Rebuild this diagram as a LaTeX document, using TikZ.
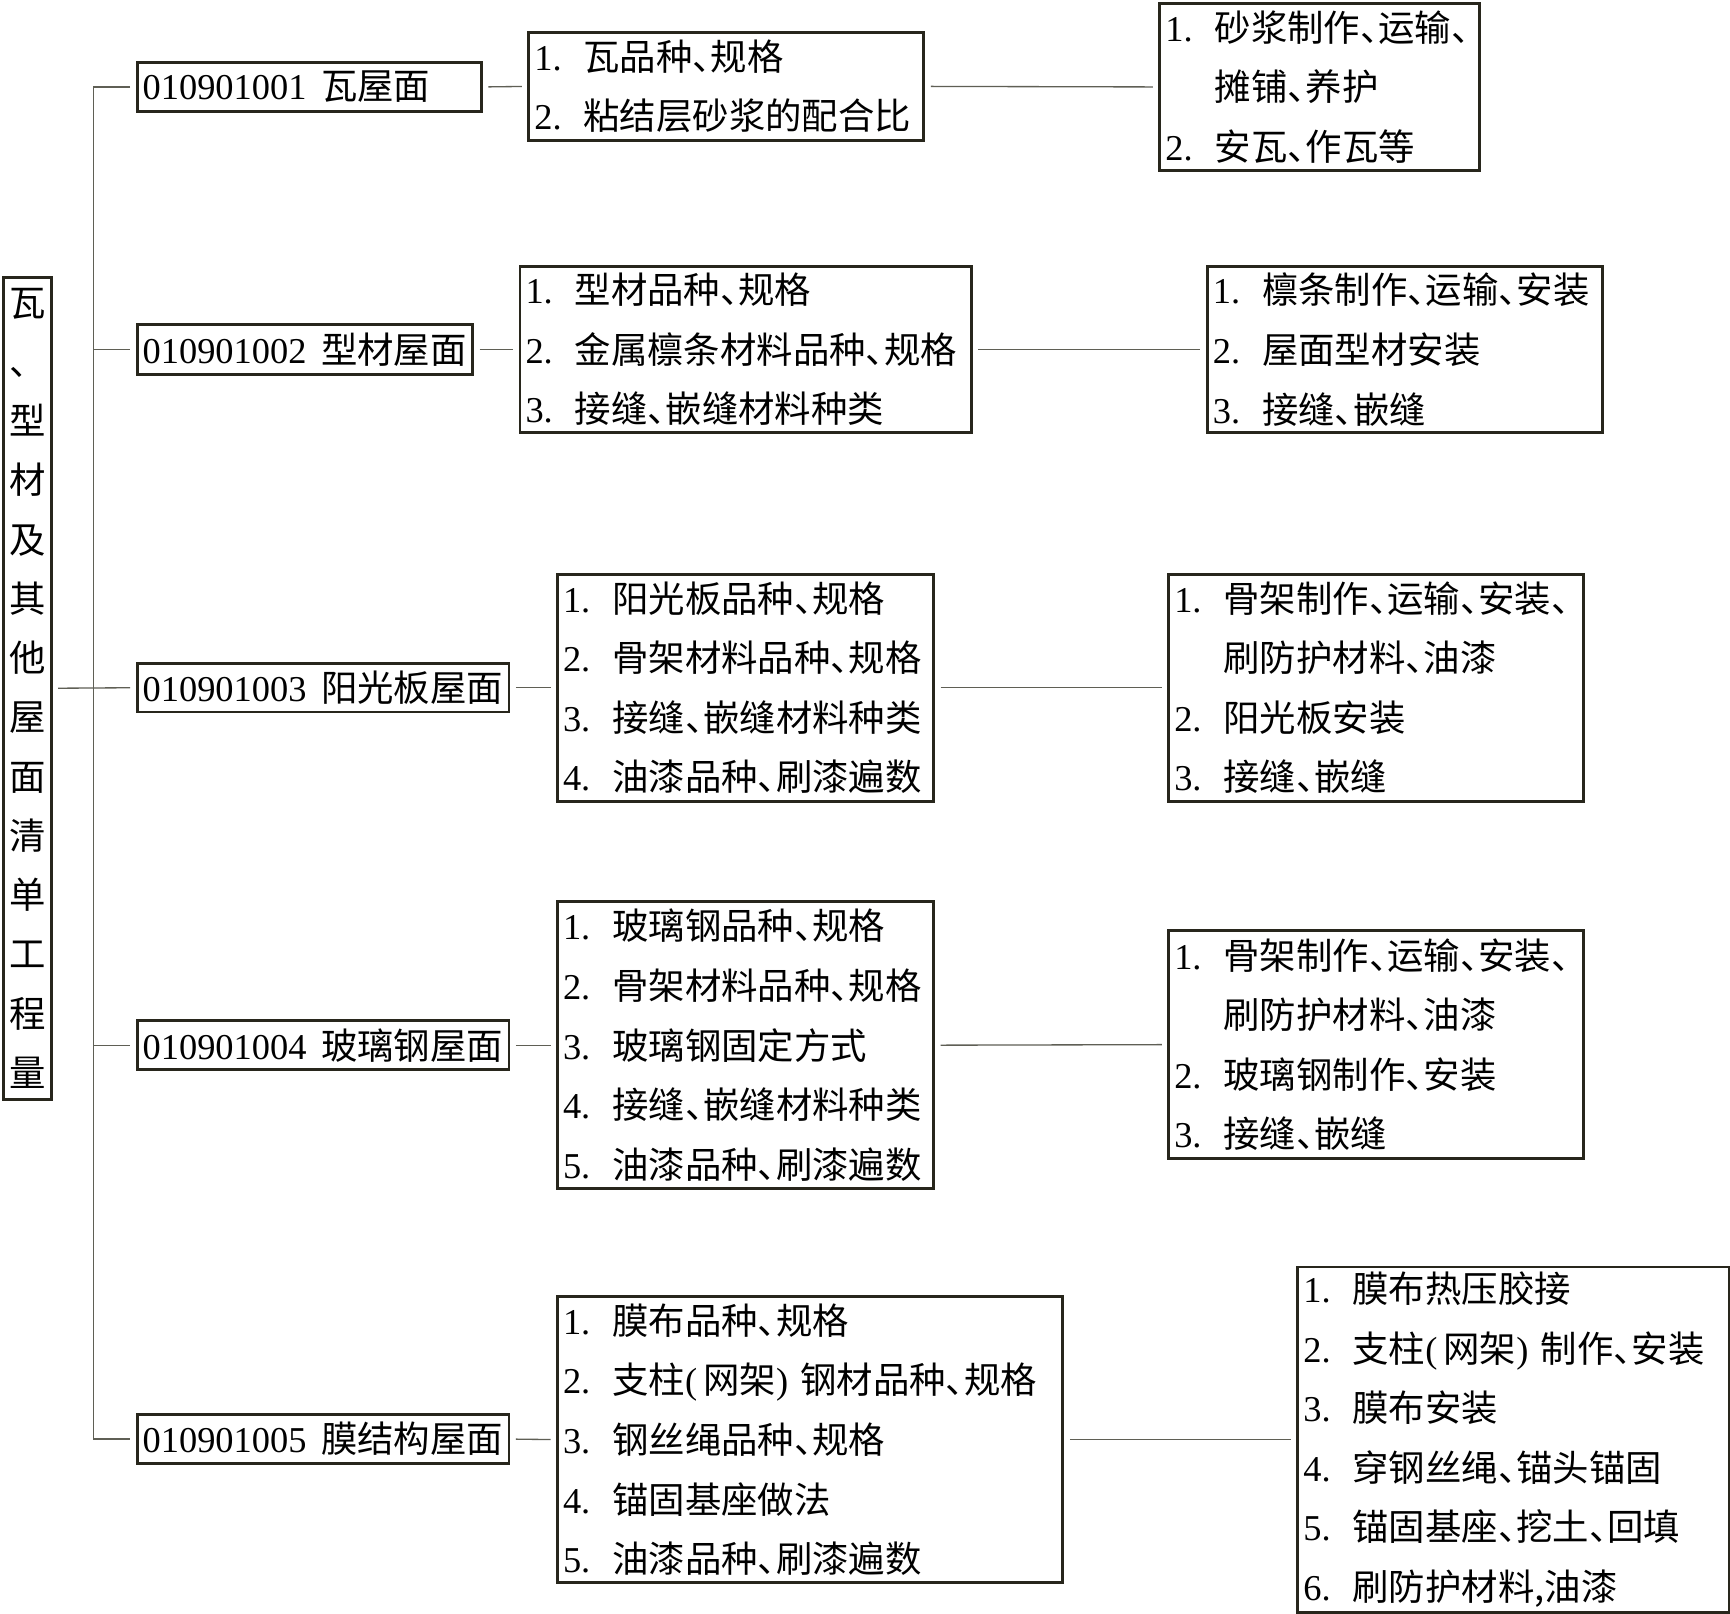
\documentclass[tikz,border=0pt]{standalone}
\usepackage{fontspec}
\setmainfont{Liberation Serif}
\newfontfamily\cjk{Noto Sans CJK SC}
\definecolor{bcol}{RGB}{40,38,28}
\definecolor{lcol}{RGB}{95,95,85}
\newcommand\li[2]{\makebox[1.35em][l]{#1.}{\cjk #2}}
\newcommand\lc[1]{\hspace*{1.35em}{\cjk #1}}
\newcommand\dn{\hbox to 0.5em{、\hss}}
\newcommand\lp{{\rmfamily(}\,}
\newcommand\rp{{\rmfamily)}\ }
\newcommand\code[2]{\mbox{#1\hspace{0.4em}{\cjk #2}}}
\begin{document}
\begin{tikzpicture}[x=0.5pt,y=-0.5pt,
  bx/.style={draw=bcol, line width=1.3pt, anchor=north west, inner xsep=2.5pt, inner ysep=0pt,
    align=left, font={\fontsize{16.5pt}{27pt}\selectfont}, text=black},
  lb/.style={draw=bcol, line width=1.3pt, anchor=north west, inner xsep=1pt, inner ysep=0pt,
    align=center, text width=19.5pt, minimum height=372.5pt,
    font={\cjk\fontsize{16.5pt}{26.85pt}\selectfont}, text=black},
  ln/.style={draw=lcol, line width=0.6pt},
  gp/.style={shorten <=2.5pt, shorten >=2.5pt}]
\useasboundingbox (0,0) rectangle (1568,1462);
\fill[white] (0,0) rectangle (1568,1462);

% left title box
\node[lb] (L) at (2,250) {瓦\\、\\型\\材\\及\\其\\他\\屋\\面\\清\\单\\工\\程\\量};

% level A
\node[bx, text width=151pt, minimum height=22.5pt] (A1) at (123,55) {\code{010901001}{瓦屋面}};
\node[bx, text width=147pt, minimum height=22.5pt] (A2) at (123,293) {\code{010901002}{型材屋面}};
\node[bx, text width=163.5pt, minimum height=22pt] (A3) at (123,600) {\code{010901003}{阳光板屋面}};
\node[bx, text width=163.5pt, minimum height=22pt] (A4) at (123,924) {\code{010901004}{玻璃钢屋面}};
\node[bx, text width=163.5pt, minimum height=22pt] (A5) at (123,1281) {\code{010901005}{膜结构屋面}};

% level B
\node[bx, text width=174pt, minimum height=49pt] (B1) at (478,28)
  {\li{1}{瓦品种\dn 规格}\\ \li{2}{粘结层砂浆的配合比}};
\node[bx, text width=199.5pt, minimum height=75.5pt] (B2) at (470,240)
  {\li{1}{型材品种\dn 规格}\\ \li{2}{金属檩条材料品种\dn 规格}\\ \li{3}{接缝\dn 嵌缝材料种类}};
\node[bx, text width=165.5pt, minimum height=103pt] (B3) at (504,519)
  {\li{1}{阳光板品种\dn 规格}\\ \li{2}{骨架材料品种\dn 规格}\\ \li{3}{接缝\dn 嵌缝材料种类}\\ \li{4}{油漆品种\dn 刷漆遍数}};
\node[bx, text width=165.5pt, minimum height=130pt] (B4) at (504,816)
  {\li{1}{玻璃钢品种\dn 规格}\\ \li{2}{骨架材料品种\dn 规格}\\ \li{3}{玻璃钢固定方式}\\ \li{4}{接缝\dn 嵌缝材料种类}\\ \li{5}{油漆品种\dn 刷漆遍数}};
\node[bx, text width=224pt, minimum height=129.5pt] (B5) at (504,1174)
  {\li{1}{膜布品种\dn 规格}\\ \li{2}{支柱\lp 网架\rp 钢材品种\dn 规格}\\ \li{3}{钢丝绳品种\dn 规格}\\ \li{4}{锚固基座做法}\\ \li{5}{油漆品种\dn 刷漆遍数}};

% level C
\node[bx, text width=140pt, minimum height=75.5pt] (C1) at (1050,2)
  {\li{1}{砂浆制作\dn 运输\dn}\\ \lc{摊铺\dn 养护}\\ \li{2}{安瓦\dn 作瓦等}};
\node[bx, text width=174pt, minimum height=75.5pt] (C2) at (1093,240)
  {\li{1}{檩条制作\dn 运输\dn 安装}\\ \li{2}{屋面型材安装}\\ \li{3}{接缝\dn 嵌缝}};
\node[bx, text width=183pt, minimum height=103pt] (C3) at (1058,519)
  {\li{1}{骨架制作\dn 运输\dn 安装\dn}\\ \lc{刷防护材料\dn 油漆}\\ \li{2}{阳光板安装}\\ \li{3}{接缝\dn 嵌缝}};
\node[bx, text width=183pt, minimum height=103.5pt] (C4) at (1058,842)
  {\li{1}{骨架制作\dn 运输\dn 安装\dn}\\ \lc{刷防护材料\dn 油漆}\\ \li{2}{玻璃钢制作\dn 安装}\\ \li{3}{接缝\dn 嵌缝}};
\node[bx, text width=190.5pt, minimum height=156.5pt] (C5) at (1175,1147)
  {\li{1}{膜布热压胶接}\\ \li{2}{支柱\lp 网架\rp 制作\dn 安装}\\ \li{3}{膜布安装}\\ \li{4}{穿钢丝绳\dn 锚头锚固}\\ \li{5}{锚固基座\dn 挖土\dn 回填}\\ \li{6}{刷防护材料,油漆}};

% trunk
\coordinate (tr) at (85,0);
\draw[ln,gp] (A1.west) -- (A1.west -| tr) |- (A5.west);
\draw[ln,shorten >=2.5pt] (A2.west -| tr) -- (A2.west);
\draw[ln,shorten >=2.5pt] (A4.west -| tr) -- (A4.west);
\draw[ln,gp] (L.east) -- (A3.west);

% A -> B
\draw[ln,gp] (A1.east) -- (B1.west);
\draw[ln,gp] (A2.east) -- (B2.west);
\draw[ln,gp] (A3.east) -- (B3.west);
\draw[ln,gp] (A4.east) -- (B4.west);
\draw[ln,gp] (A5.east) -- (B5.west);

% B -> C
\draw[ln,gp] (B1.east) -- (C1.west);
\draw[ln,gp] (B2.east) -- (C2.west);
\draw[ln,gp] (B3.east) -- (C3.west);
\draw[ln,gp] (B4.east) -- (C4.west);
\draw[ln,gp] (B5.east) -- (C5.west);
\end{tikzpicture}
\end{document}
